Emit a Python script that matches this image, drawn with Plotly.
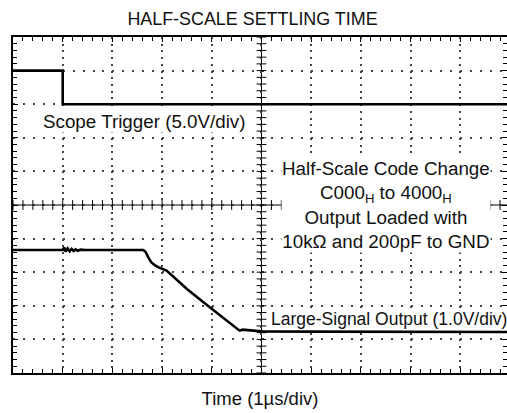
import numpy as np
import plotly.graph_objects as go

# divisions on the scope screen (x: time div, y: vertical div from bottom)
trigger_x = [0, 1.0, 1.0, 9.94]
trigger_y = [9.0, 9.0, 8.0, 8.0]

output_x = [0, 1.0, 1.03, 1.06, 1.10, 1.14, 1.18, 1.22, 1.26, 1.30, 1.36, 1.45,
            2.62, 2.67, 2.72, 2.78, 2.86, 2.95, 3.09, 3.50, 3.92, 4.30, 4.56,
            4.62, 4.70, 4.80, 5.0, 6.0, 7.0, 8.0, 9.0, 9.94]
output_y = [3.66, 3.66, 3.74, 3.61, 3.71, 3.62, 3.69, 3.63, 3.68, 3.64, 3.67, 3.66,
            3.66, 3.60, 3.45, 3.30, 3.20, 3.13, 3.05, 2.50, 2.00, 1.55, 1.26,
            1.29, 1.28, 1.26, 1.24, 1.23, 1.23, 1.22, 1.22, 1.22]

title = "HALF-SCALE SETTLING TIME"
x_title = "Time (1µs/div)"
trigger_label = "Scope Trigger (5.0V/div)"
output_label = "Large-Signal Output (1.0V/div)"
note_lines = ["Half-Scale Code Change", "C000<sub>H</sub> to 4000<sub>H</sub>",
              "Output Loaded with", "10kΩ and 200pF to GND"]

FONT = "Arial, Liberation Sans, sans-serif"
XMAX = 9.94

fig = go.Figure()

# center crosshair tick marks
minor_pos = np.round(np.arange(0, 10.01, 0.2), 2)
hpos = minor_pos[minor_pos <= XMAX]
fig.add_trace(go.Scatter(x=hpos, y=[5] * len(hpos),
                         mode="markers", hoverinfo="skip", showlegend=False,
                         marker=dict(symbol="line-ns", size=7, line=dict(width=1, color="black"))))
fig.add_trace(go.Scatter(x=[5] * len(minor_pos), y=minor_pos,
                         mode="markers", hoverinfo="skip", showlegend=False,
                         marker=dict(symbol="line-ew", size=7, line=dict(width=1, color="black"))))

fig.add_trace(go.Scatter(x=trigger_x, y=trigger_y, mode="lines", showlegend=False,
                         line=dict(color="black", width=2.6)))
fig.add_trace(go.Scatter(x=output_x, y=output_y, mode="lines", showlegend=False,
                         line=dict(color="black", width=2.6)))
# dummy trace so the right-side tick axis is drawn
fig.add_trace(go.Scatter(x=[0], y=[0], yaxis="y2", mode="markers", showlegend=False,
                         marker=dict(opacity=0), hoverinfo="skip"))

fig.add_shape(type="line", x0=5, x1=5, y0=0, y1=10, line=dict(color="black", width=1), layer="below")
fig.add_shape(type="line", x0=0, x1=XMAX, y0=5, y1=5, line=dict(color="black", width=1), layer="below")

fig.add_annotation(x=2.65, y=7.5, text=trigger_label, showarrow=False,
                   font=dict(family=FONT, size=18.8, color="#111"), bgcolor="white", borderpad=0)
fig.add_annotation(x=7.5, y=5.0, text="<br>".join(note_lines), showarrow=False,
                   font=dict(family=FONT, size=18.8, color="#111"), bgcolor="white", borderpad=0)
fig.add_annotation(x=7.56, y=1.62, text=output_label, showarrow=False,
                   font=dict(family=FONT, size=17.5, color="#111"), bgcolor="white", borderpad=0)

axis_common = dict(showticklabels=False, ticks="inside", ticklen=5, tickwidth=1,
                   tickcolor="black", zeroline=False, fixedrange=True)

fig.update_layout(
    width=507, height=413,
    margin=dict(l=13, r=0, t=37, b=40),
    paper_bgcolor="white", plot_bgcolor="white",
    hovermode=False,
    title=dict(text=title, x=0.498, xanchor="center", y=1 - 19 / 413, yanchor="middle",
               font=dict(family=FONT, size=17.9, color="#111")),
    xaxis=dict(range=[0, XMAX], dtick=1, tick0=0, showline=True, linewidth=2,
               linecolor="black", mirror="ticks", showgrid=True, gridcolor="#444",
               gridwidth=2, griddash="2px,4.72px",
               minor=dict(dtick=0.2, ticks="inside", ticklen=4, tickcolor="black", showgrid=False),
               title=dict(text=x_title, font=dict(family=FONT, size=18.5, color="#111"), standoff=18),
               **axis_common),
    yaxis=dict(range=[0, 10], dtick=1, tick0=0, showline=True, linewidth=2,
               linecolor="black", showgrid=True, gridcolor="#444",
               gridwidth=2, griddash="2px,7.94px",
               minor=dict(dtick=0.2, ticks="inside", ticklen=4, tickcolor="black", showgrid=False),
               **axis_common),
    yaxis2=dict(range=[0, 10], dtick=1, tick0=0, overlaying="y", side="right",
                showline=False, showgrid=False,
                minor=dict(dtick=0.2, ticks="inside", ticklen=4, tickcolor="black", showgrid=False),
                **axis_common),
)

# the page's default body margin would shift the chart by 8px
fig.write_html("out.html", config={"displayModeBar": False},
               post_script="document.body.style.margin='0';")
